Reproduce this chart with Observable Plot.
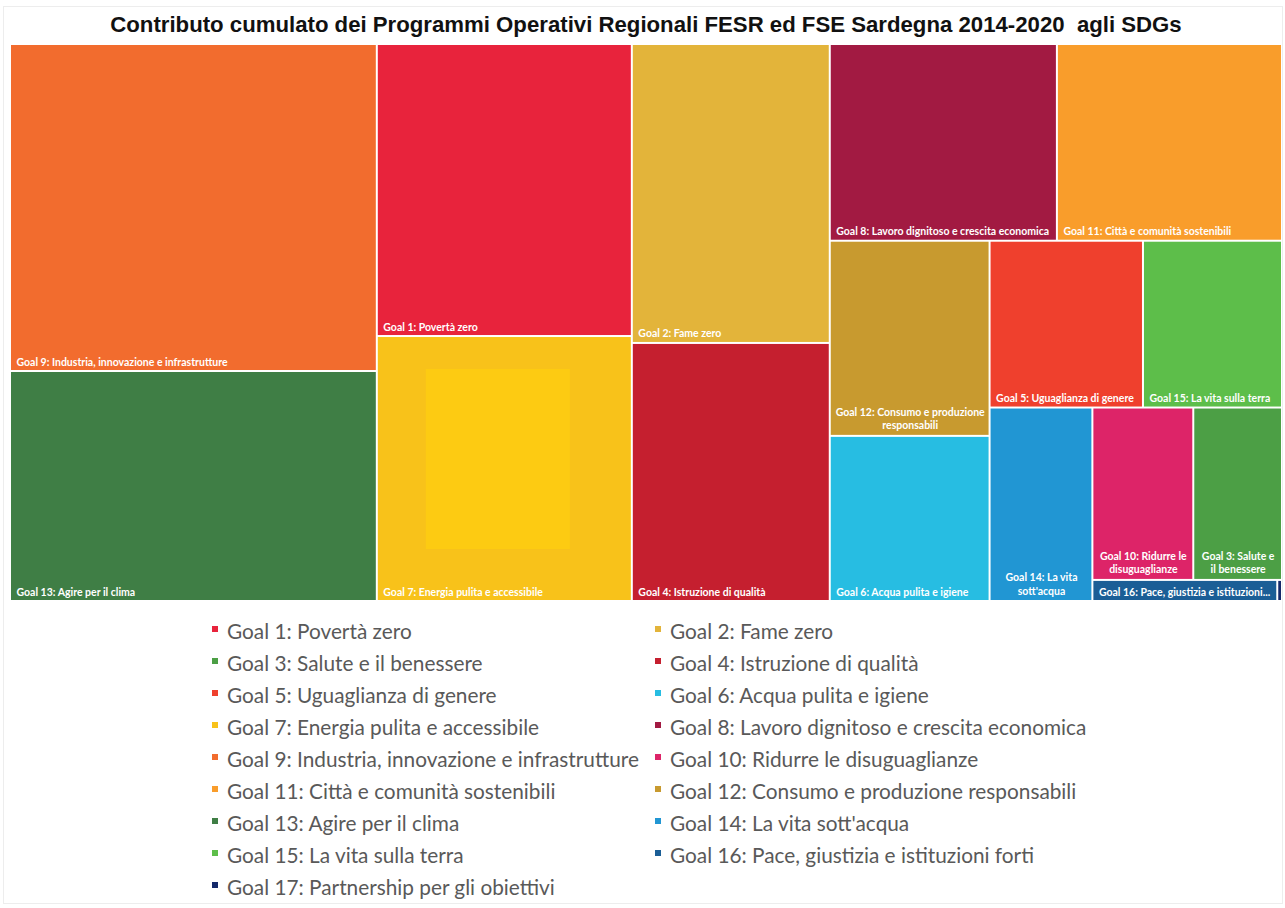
<!DOCTYPE html>
<html>
<head>
<meta charset="utf-8">
<script src="https://cdn.jsdelivr.net/npm/d3@7"></script>
<script src="https://cdn.jsdelivr.net/npm/@observablehq/plot@0.6"></script>
<style>
  body { margin: 0; background: #fff; }
  #wrap { position: relative; width: 1285px; height: 908px; overflow: hidden; }
  #frame { position: absolute; left: 3px; top: 6px; width: 1280px; height: 898px; border: 1px solid #ededed; box-sizing: border-box; }
  #title { position: absolute; left: 0; top: 12px; width: 1292px; text-align: center;
           font: bold 22.2px "Liberation Sans", Arial, sans-serif; color: #111; white-space: pre; }
  #chart { position: absolute; left: 0; top: 0; }
  #legend { position: absolute; left: 212px; top: 614px; display: grid;
            grid-template-columns: 443px 560px; grid-auto-rows: 32px;
            font-family: Lato, sans-serif; font-size: 20.8px; color: #595959; }
  .item { display: flex; align-items: center; white-space: nowrap; }
  .sw { width: 6px; height: 6px; margin-right: 9px; margin-top: -3px; flex: none; }
</style>
</head>
<body>
<div id="wrap">
  <div id="frame"></div>
  <div id="title"></div>
  <div id="chart"></div>
  <div id="legend"></div>
</div>
<script>
const title = "Contributo cumulato dei Programmi Operativi Regionali FESR ed FSE Sardegna 2014-2020  agli SDGs";

const goals = [
  "Goal 1: Povertà zero",
  "Goal 2: Fame zero",
  "Goal 3: Salute e il benessere",
  "Goal 4: Istruzione di qualità",
  "Goal 5: Uguaglianza di genere",
  "Goal 6: Acqua pulita e igiene",
  "Goal 7: Energia pulita e accessibile",
  "Goal 8: Lavoro dignitoso e crescita economica",
  "Goal 9: Industria, innovazione e infrastrutture",
  "Goal 10: Ridurre le disuguaglianze",
  "Goal 11: Città e comunità sostenibili",
  "Goal 12: Consumo e produzione responsabili",
  "Goal 13: Agire per il clima",
  "Goal 14: La vita sott'acqua",
  "Goal 15: La vita sulla terra",
  "Goal 16: Pace, giustizia e istituzioni forti",
  "Goal 17: Partnership per gli obiettivi"
];

// cell labels as shown inside the treemap (wrapped / truncated like the original)
const cellLabels = [
  "Goal 1: Povertà zero",
  "Goal 2: Fame zero",
  "Goal 3: Salute e\nil benessere",
  "Goal 4: Istruzione di qualità",
  "Goal 5: Uguaglianza di genere",
  "Goal 6: Acqua pulita e igiene",
  "Goal 7: Energia pulita e accessibile",
  "Goal 8: Lavoro dignitoso e crescita economica",
  "Goal 9: Industria, innovazione e infrastrutture",
  "Goal 10: Ridurre le\ndisuguaglianze",
  "Goal 11: Città e comunità sostenibili",
  "Goal 12: Consumo e produzione\nresponsabili",
  "Goal 13: Agire per il clima",
  "Goal 14: La vita\nsott'acqua",
  "Goal 15: La vita sulla terra",
  "Goal 16: Pace, giustizia e istituzioni...",
  ""
];

// relative contribution
const values = [745, 592, 153, 511, 256, 264, 676, 447, 1200, 174, 443, 312, 844, 199, 232, 39, 1];

const colors = [
  "#E8233C", "#E3B43A", "#4C9F45", "#C51F2F", "#EF402D", "#27BDE2",
  "#F8C21A", "#A21A42", "#F26C2E", "#DD2468", "#F99D2B", "#C89A2F",
  "#3F7E45", "#2196D3", "#5DBE4A", "#1B5E96", "#14296A"
];

document.getElementById("title").textContent = title;

const W = 1272, H = 557;
const root = d3.hierarchy({children: goals.map((g, i) => ({goal: g, label: cellLabels[i], value: values[i], color: colors[i]}))})
  .sum(d => d.value)
  .sort((a, b) => b.value - a.value);
d3.treemap().size([W, H]).tile(d3.treemapSquarify.ratio(1))(root);
const cells = root.leaves().map(l => ({...l.data, x0: l.x0, x1: l.x1, y0: l.y0, y1: l.y1, xm: (l.x0 + l.x1) / 2}));

const single = cells.filter(d => d.label && !d.label.includes("\n"));
const multi = cells.filter(d => d.label.includes("\n"));

const chart = Plot.plot({
  width: 1285,
  height: 610,
  marginTop: 44,
  marginLeft: 10,
  marginRight: 3,
  marginBottom: 9,
  x: {domain: [0, W], axis: null},
  y: {domain: [0, H], range: [44, 601], axis: null},
  color: {type: "identity"},
  marks: [
    Plot.rect(cells, {x1: "x0", x2: "x1", y1: "y0", y2: "y1", fill: "color", inset: 1}),
    Plot.rect(cells.filter(d => d.goal.startsWith("Goal 7:")), {
      x1: "x0", x2: "x1", y1: "y0", y2: "y1", fill: "#FDCB12",
      insetLeft: 49, insetRight: 62, insetTop: 33, insetBottom: 52
    }),
    Plot.text(single, {
      x: "x0", y: "y1", text: "label", dx: 6, dy: -6,
      textAnchor: "start", lineAnchor: "bottom",
      fill: "white", fontWeight: "bold", fontSize: 10.5, fontFamily: "Lato, sans-serif"
    }),
    Plot.text(multi, {
      x: "xm", y: "y1", text: "label", dy: -7, lineHeight: 1.3,
      textAnchor: "middle", lineAnchor: "bottom",
      fill: "white", fontWeight: "bold", fontSize: 10.5, fontFamily: "Lato, sans-serif"
    })
  ]
});
document.getElementById("chart").appendChild(chart);

const legend = document.getElementById("legend");
goals.forEach((g, i) => {
  const item = document.createElement("div");
  item.className = "item";
  const sw = document.createElement("span");
  sw.className = "sw";
  sw.style.background = colors[i];
  const t = document.createElement("span");
  t.textContent = g;
  item.appendChild(sw);
  item.appendChild(t);
  legend.appendChild(item);
});
</script>
</body>
</html>
